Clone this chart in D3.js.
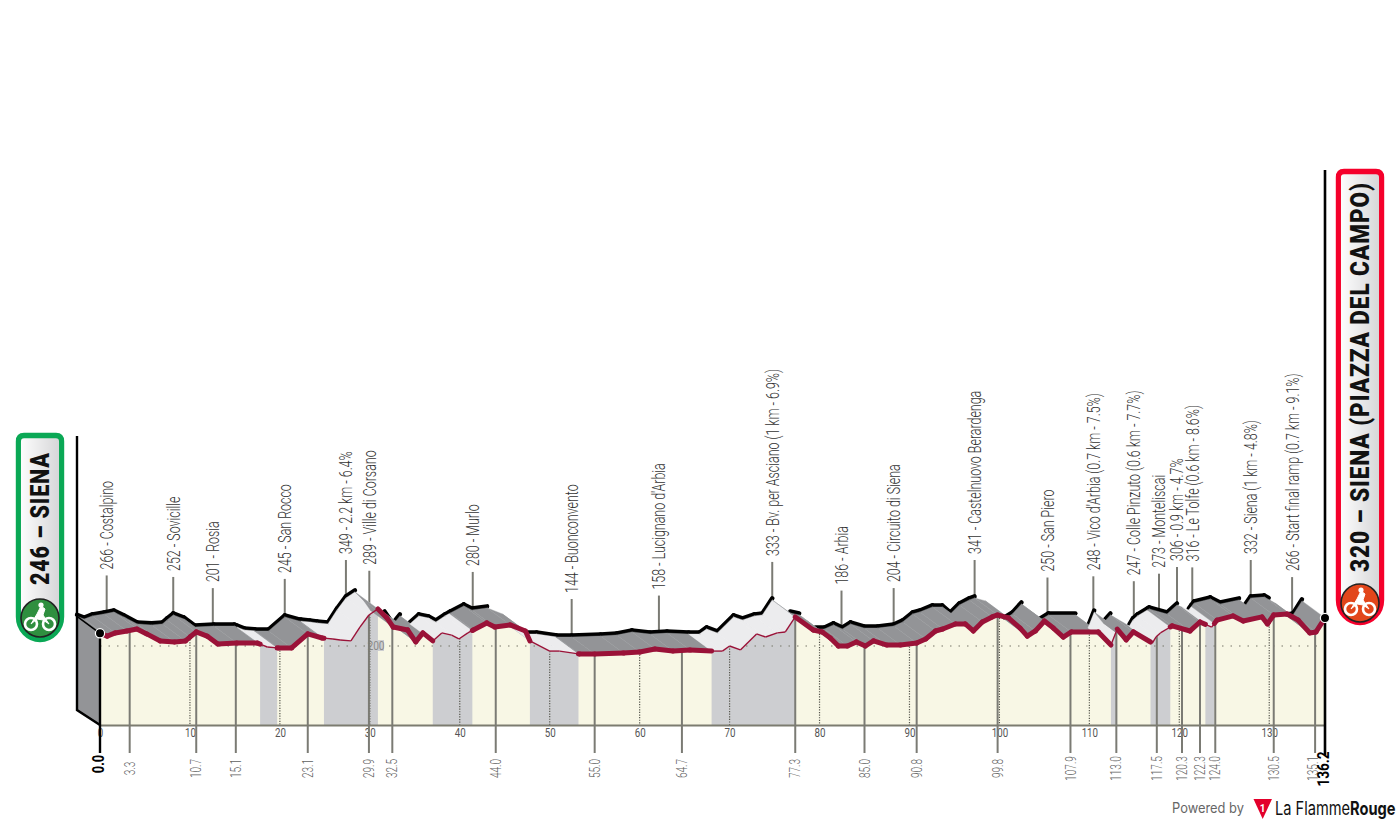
<!DOCTYPE html>
<html><head><meta charset="utf-8">
<style>html,body{margin:0;padding:0;background:#fff}svg{display:block}text{font-family:Roboto,sans-serif}</style>
<script src="https://cdn.jsdelivr.net/npm/d3@7/dist/d3.min.js"></script>
</head><body><div id="c"></div>
<script>
const profileKm=[0,0.8,1.7,3.0,4.1,5.2,6.7,8.3,9.5,10.0,10.7,11.9,13.1,15.2,17.5,18.6,19.8,21.3,23.1,24.7,25.9,26.7,27.9,28.9,29.9,30.9,31.9,32.6,34.2,35.1,35.9,37.0,38.0,39.1,39.9,40.9,41.5,43.0,43.9,45.6,47.3,47.8,50.0,51.1,53.3,55.0,58.2,60.0,61.7,63.7,65.6,68.0,69.2,70.0,71.2,73.0,74.0,75.3,76.2,77.3,79.3,80.3,81.2,82.1,83.1,84.1,85.1,86.0,87.5,89.0,90.8,91.8,92.9,93.7,95.1,96.2,97.1,98.1,99.2,99.8,101.0,102.3,103.1,104.0,105.0,106.0,107.1,108.0,111.0,112.4,113.1,114.1,114.9,117.0,117.4,117.9,119.2,121.2,122.3,123.6,124.2,126.0,127.1,129.2,129.8,130.5,132.0,133.2,134.5,135.2,136.2];
const profileEle=[250,236,252,262,272,247,211,206,211,231,257,236,195,200,200,180,175,175,247,226,221,216,211,282,344,375,329,282,267,206,252,211,252,241,221,252,267,303,282,293,262,211,159,159,144,144,149,154,170,159,164,159,159,185,165,247,231,252,257,334,267,257,226,185,185,206,185,211,190,190,200,221,262,272,298,298,262,308,334,344,329,277,236,262,313,277,231,257,257,190,272,216,257,200,231,252,288,262,308,282,318,339,313,334,298,344,349,318,252,257,329];
const climbBands=[[17.8,19.7],[24.9,30.9],[37.0,41.4],[47.8,53.2],[68.0,77.3],[112.4,113.1],[116.8,119.0],[122.9,123.9]];
const hiddenBackKm=[[30.9,34.2],[35.9,37.0],[45.6,50.0],[77.3,79.3],[80.3,82.1],[99.8,103.1],[105.0,107.1],[111.0,112.4],[113.1,114.1],[114.9,117.0],[122.3,123.6],[129.2,129.9],[132.5,134.5]];
const waypointKm=[3.3,10.7,15.1,23.1,29.9,32.5,44.0,55.0,64.7,77.3,85.0,90.8,99.8,107.9,113.0,117.5,120.3,122.3,124.0,130.5,135.1];
const waypointNames=["266 - Costalpino","252 - Sovicille","201 - Rosia","245 - San Rocco","349 - 2.2 km - 6.4%","289 - Ville di Corsano","280 - Murlo","144 - Buonconvento","158 - Lucignano d'Arbia","333 - Bv. per Asciano (1 km - 6.9%)","186 - Arbia","204 - Circuito di Siena","341 - Castelnuovo Berardenga","250 - San Piero","248 - Vico d'Arbia (0.7 km - 7.5%)","247 - Colle Pinzuto (0.6 km - 7.7%)","273 - Monteliscai","306 - 0.9 km - 4.7%","316 - Le Tolfe (0.6 km - 8.6%)","332 - Siena (1 km - 4.8%)","266 - Start final ramp (0.7 km - 9.1%)"];
const kmTicks=[0,10,20,30,40,50,60,70,80,90,100,110,120,130];
const startLabel="246 – SIENA", finishLabel="320 – SIENA (PIAZZA DEL CAMPO)";
const totalKm=136.2, refEle=200;

const W=1400,H=825,baseY=725,dx=-23,dy=-17;
const x=d3.scaleLinear().domain([0,totalKm]).range([100,1325]);
const y=d3.scaleLinear().domain([144,349]).range([654,614]);
const eleAt=k=>{const i=Math.min(d3.bisectRight(profileKm,k),profileKm.length-1),a=Math.max(i-1,0);
  if(profileKm[i]===profileKm[a])return profileEle[a];
  return profileEle[a]+(profileEle[i]-profileEle[a])*(k-profileKm[a])/(profileKm[i]-profileKm[a]);};
const fy=k=>y(eleAt(k));
const inAny=(k,l)=>l.some(b=>k>=b[0]&&k<=b[1]);
const stops=Array.from(new Set([...profileKm,...climbBands.flat(),...hiddenBackKm.flat()])).sort((a,b)=>a-b);
const segs=d3.pairs(stops);

const svg=d3.select("#c").append("svg").attr("width",W).attr("height",H).attr("viewBox",`0 0 ${W} ${H}`);
const defs=svg.append("defs");
const grad=defs.append("linearGradient").attr("id","pill").attr("x1",0).attr("x2",1).attr("y1",0).attr("y2",0);
grad.append("stop").attr("offset",0).attr("stop-color","#fff");
grad.append("stop").attr("offset",1).attr("stop-color","#d4d4d6");

const C={yellow:"#f8f7e5",band:"#cdced1",dark:"#939497",light:"#ececee",red:"#9a1238",stem:"#7b7b74",lab:"#5f5f5f"};
const area=d3.area().x(k=>x(k)).y0(baseY).y1(fy);
svg.append("path").attr("d",area(stops)).attr("fill",C.yellow);
climbBands.forEach(b=>{svg.append("path").attr("d",area(stops.filter(k=>k>=b[0]&&k<=b[1]))).attr("fill",C.band);});

// 200 m reference
svg.append("line").attr("x1",x(0)).attr("x2",x(totalKm)).attr("y1",646).attr("y2",646)
  .attr("stroke","#77776a").attr("stroke-width",1.2).attr("stroke-dasharray","1.5 7");
svg.append("rect").attr("x",367).attr("y",640).attr("width",17).attr("height",11).attr("fill",C.band);
svg.append("text").attr("transform","translate(376,650) scale(.78,1)").attr("text-anchor","middle")
  .attr("font-size",13).attr("fill","#8a8a8a").text(refEle);

// km dotted lines
svg.selectAll(".kd").data(kmTicks.slice(1)).join("line").attr("x1",x).attr("x2",x).attr("y1",fy).attr("y2",baseY)
  .attr("stroke","#55554c").attr("stroke-width",1.2).attr("stroke-dasharray","1.2 1.4");

// axis
const ax=svg.append("g").attr("transform",`translate(0,${baseY})`).call(d3.axisBottom(x).tickValues(kmTicks).tickSize(0).tickPadding(3).tickFormat(d3.format("d")));
ax.select(".domain").attr("stroke","#7c7c70").attr("stroke-width",2);
ax.selectAll("text").attr("font-family","Roboto").attr("font-size",13).attr("fill","#555").attr("transform","scale(.75,1)");

// waypoint stems
svg.selectAll(".st").data(waypointKm).join("line").attr("x1",x).attr("x2",x).attr("y1",fy).attr("y2",753)
  .attr("stroke",C.stem).attr("stroke-width",2);
svg.selectAll(".su").data(waypointKm).join("line").attr("x1",k=>x(k)+dx).attr("x2",k=>x(k)+dx)
  .attr("y1",k=>fy(k)+dy).attr("y2",k=>fy(k)+dy-38).attr("stroke",C.stem).attr("stroke-width",2);

// back line
const line=d3.line().x(k=>x(k)+dx).y(k=>fy(k)+dy-1.6);
segs.filter(s=>!inAny((s[0]+s[1])/2,hiddenBackKm)).forEach(s=>{
  svg.append("path").attr("d",line(s)).attr("fill","none").attr("stroke","#000").attr("stroke-width",4.4).attr("stroke-linecap","round");});

// ribbon
segs.forEach(s=>{
  const band=inAny((s[0]+s[1])/2,climbBands);
  const p=[[x(s[0]),fy(s[0])],[x(s[1]),fy(s[1])],[x(s[1])+dx,fy(s[1])+dy],[x(s[0])+dx,fy(s[0])+dy]];
  const col=band?C.light:C.dark;
  svg.append("path").attr("d",d3.line()(p)+"Z").attr("fill",col).attr("stroke",col).attr("stroke-width",.4);
});

// left wall
svg.append("path").attr("d",`M${x(0)+dx},${fy(0)+dy}L${x(0)},${fy(0)}L${x(0)},${baseY}L${x(0)+dx},${baseY-15}Z`).attr("fill",C.dark);
svg.append("path").attr("d",`M${x(0)+dx},436L${x(0)+dx},${baseY-15}L${x(0)},${baseY}`).attr("fill","none").attr("stroke","#000").attr("stroke-width",2.4);
svg.append("line").attr("x1",x(0)+dx).attr("x2",x(0)).attr("y1",fy(0)+dy).attr("y2",fy(0)).attr("stroke","#000").attr("stroke-width",1.6);
svg.append("line").attr("x1",x(0)).attr("x2",x(0)).attr("y1",fy(0)).attr("y2",753).attr("stroke","#000").attr("stroke-width",2.4);
svg.append("line").attr("x1",x(totalKm)).attr("x2",x(totalKm)).attr("y1",170).attr("y2",755).attr("stroke","#000").attr("stroke-width",2.6);

// front red line
segs.forEach(s=>{
  const band=inAny((s[0]+s[1])/2,climbBands);
  svg.append("path").attr("d",d3.line().x(k=>x(k)).y(fy)(s)).attr("fill","none").attr("stroke",C.red)
    .attr("stroke-width",band?1.4:5).attr("stroke-linecap",band?"butt":"round");
});
[[0],[totalKm]].forEach(([k])=>svg.append("circle").attr("cx",x(k)).attr("cy",fy(k)).attr("r",4.6).attr("fill","#000").attr("stroke","#fff").attr("stroke-width",1.2));

// labels
const vt=(sel,tx,ty,sx)=>sel.attr("transform",`translate(${tx},${ty}) rotate(-90) scale(${sx},1)`);
waypointKm.forEach((k,i)=>{
  vt(svg.append("text").attr("dy",".36em").attr("font-size",18).attr("font-weight",300).attr("fill","#333").text(waypointNames[i]),
    x(k)+dx,fy(k)+dy-44,.69);
  vt(svg.append("text").attr("dy",".36em").attr("text-anchor","middle").attr("font-size",14).attr("font-weight",300).attr("fill",C.lab).text(d3.format(".1f")(k)),
    x(k)-(k===135.1?2:0),768.5,.72);
});
vt(svg.append("text").attr("dy",".36em").attr("text-anchor","middle").attr("font-size",16).attr("font-weight",700).attr("fill","#000").text("0.0"),x(0)-2,764,.8);
vt(svg.append("text").attr("dy",".36em").attr("text-anchor","middle").attr("font-size",17).attr("font-weight",700).attr("fill","#000").text(d3.format(".1f")(totalKm)),x(totalKm)-2,769,.8);

// pills
function pill(px,top,bot,col,label,ty,sx,iconFill){
  const w=46,r=6,R=23;
  const path=`M${px+r},${top}H${px+w-r}Q${px+w},${top} ${px+w},${top+r}V${bot-R}A${R},${R} 0 0 1 ${px},${bot-R}V${top+r}Q${px},${top} ${px+r},${top}Z`;
  svg.append("path").attr("d",path).attr("fill","url(#pill)").attr("stroke",col).attr("stroke-width",5.5).attr("transform",`translate(${px+w/2},${(top+bot)/2}) scale(.94,.985) translate(${-px-w/2},${-(top+bot)/2})`);
  const cx=px+w/2,cy=bot-R;
  svg.append("text").attr("transform",`translate(${cx},${ty}) rotate(-90) scale(${sx},1)`).attr("dy",".36em").attr("font-size",25).attr("font-weight",900)
    .attr("letter-spacing",1).attr("fill","#111").text(label);
  svg.append("circle").attr("cx",cx).attr("cy",cy).attr("r",19).attr("fill",iconFill).attr("stroke","#222").attr("stroke-width",1.6);
  const b=svg.append("g").attr("transform",`translate(${cx},${cy})`).attr("fill","none").attr("stroke","#fff");
  b.append("circle").attr("cx",-9).attr("cy",6).attr("r",6).attr("stroke-width",2.6);
  b.append("circle").attr("cx",9).attr("cy",6).attr("r",6).attr("stroke-width",2.6);
  b.append("path").attr("d","M-9,6L-3,-4L1,-12L5,-9L3,-3L9,6L3,2L-3,1Z").attr("fill","#fff").attr("stroke-width",1);
  b.append("circle").attr("cx",1).attr("cy",-13).attr("r",2.6).attr("fill","#fff").attr("stroke","none");
}
pill(17,434,641,"#0aa855",startLabel,585,.86,"#2f8f3f");
pill(1337,168,626,"#f5002b",finishLabel,572,.905,"#e2461b");

// footer
svg.append("text").attr("transform","translate(1172,813) scale(.92,1)").attr("style","font-family:Inter").attr("font-size",14).attr("fill","#666").text("Powered by");
svg.append("path").attr("d","M1253.5,799H1272L1262.7,819Z").attr("fill","#e3002b");
svg.append("text").attr("x",1262.5).attr("y",812).attr("text-anchor","middle").attr("font-size",10).attr("font-weight",700).attr("fill","#fff").text("1");
const lf=svg.append("text").attr("transform","translate(1275,815) scale(.79,1)").attr("style","font-family:Inter").attr("font-size",18.5).attr("fill","#111");
lf.append("tspan").text("La Flamme");lf.append("tspan").attr("font-weight",700).text("Rouge");
</script></body></html>
